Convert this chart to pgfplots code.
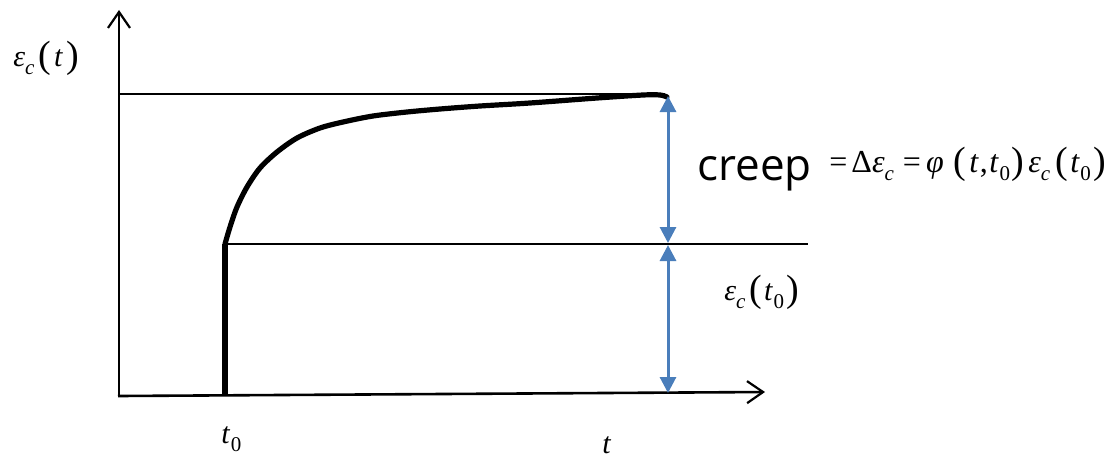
\documentclass[border=0pt]{standalone}
\usepackage{pgfplots}
\pgfplotsset{compat=1.18}
\usetikzlibrary{arrows.meta}
\usepackage{fontspec}
\setmainfont{Liberation Serif}
\newfontfamily\creepfont{Open Sans}
\definecolor{arrowblue}{RGB}{74,126,187}
% italic symbols set in the serif text face
\newcommand{\iv}[1]{\textit{#1}}
\newcommand{\sbs}[1]{\raisebox{-4.2pt}{\fontsize{10.5}{10.5}\selectfont #1}}
\newcommand{\lp}{\raisebox{-0.6pt}{\fontsize{19}{19}\selectfont(}}
\newcommand{\rp}{\raisebox{-0.6pt}{\fontsize{19}{19}\selectfont)}}
\newcommand{\epsc}{\iv{ε}\sbs{\iv{c}}}
\newcommand{\tz}{\iv{t}\hspace{0.3pt}\sbs{0}}
\begin{document}
\begin{tikzpicture}
\begin{axis}[
  scale only axis, width=554.5pt, height=229pt,
  xmin=0, xmax=1109, ymin=0, ymax=458, y dir=reverse,
  hide axis, clip=false]
% coordinate axes
\addplot[black, line width=1.3pt, -{Straight Barb[length=8pt,width=11pt,line width=1.1pt]}]
  coordinates {(119,397) (119,10)};
\addplot[black, line width=1.3pt, -{Straight Barb[length=8pt,width=11pt,line width=1.1pt]}]
  coordinates {(118,396) (765,392)};
% reference levels
\addplot[black, line width=0.9pt] coordinates {(119,94) (665,94)};
\addplot[black, line width=0.9pt] coordinates {(225,244) (808,244)};
% strain history: instantaneous step, then creep
\addplot[black, line width=2.6pt] coordinates {(225,394) (225,244)};
\addplot[black, line width=2.6pt, smooth, tension=0.5, line cap=round] coordinates {
  (225,244) (230,227) (237,207) (247,187) (260,168) (277,152) (297,138)
  (320,128) (343,122) (373,116) (407,112) (440,109) (480,106) (530,103)
  (597,98) (643,95) (660,95) (667,97)};
% dimension arrows
\addplot[arrowblue, line width=1.5pt, {Triangle[length=8pt,width=8pt]}-{Triangle[length=8pt,width=8pt]}]
  coordinates {(668,96) (668,243)};
\addplot[arrowblue, line width=1.5pt, {Triangle[length=8pt,width=8pt]}-{Triangle[length=8pt,width=8pt]}]
  coordinates {(668,245) (668,393)};
% labels
\node[font=\fontsize{15}{18}\selectfont, anchor=base west, inner sep=0pt] at (axis cs:13,66)
  {\epsc\hspace{2pt}\lp\hspace{1.5pt}\iv{t}\hspace{1.5pt}\rp};
\node[font=\fontsize{15}{18}\selectfont, anchor=base west, inner sep=0pt] at (axis cs:724,300)
  {\epsc\hspace{2pt}\lp\hspace{1pt}\tz\hspace{1pt}\rp};
\node[font=\fontsize{15}{18}\selectfont, anchor=base west, inner sep=0pt] at (axis cs:221,443) {\tz};
\node[font=\fontsize{15}{18}\selectfont, anchor=base west, inner sep=0pt] at (axis cs:602,453) {\iv{t}};
\node[font=\creepfont\fontsize{22}{26}\selectfont, anchor=base west, inner sep=0pt] at (axis cs:697,180) {creep};
\node[font=\fontsize{16}{19}\selectfont, anchor=base west, inner sep=0pt] at (axis cs:829,172)
  {=\hspace{2pt}Δ\epsc\hspace{4.5pt}=\hspace{2.5pt}\iv{φ}\hspace{5pt}\lp\hspace{1.5pt}\iv{t}\hspace{0.5pt},\hspace{0.8pt}\tz\hspace{0.8pt}\rp\hspace{2pt}\epsc\hspace{2.5pt}\lp\hspace{1.2pt}\tz\hspace{1pt}\rp};
\end{axis}
\pgfresetboundingbox
\path (current axis.south west) rectangle (current axis.north east);
\end{tikzpicture}
\end{document}
